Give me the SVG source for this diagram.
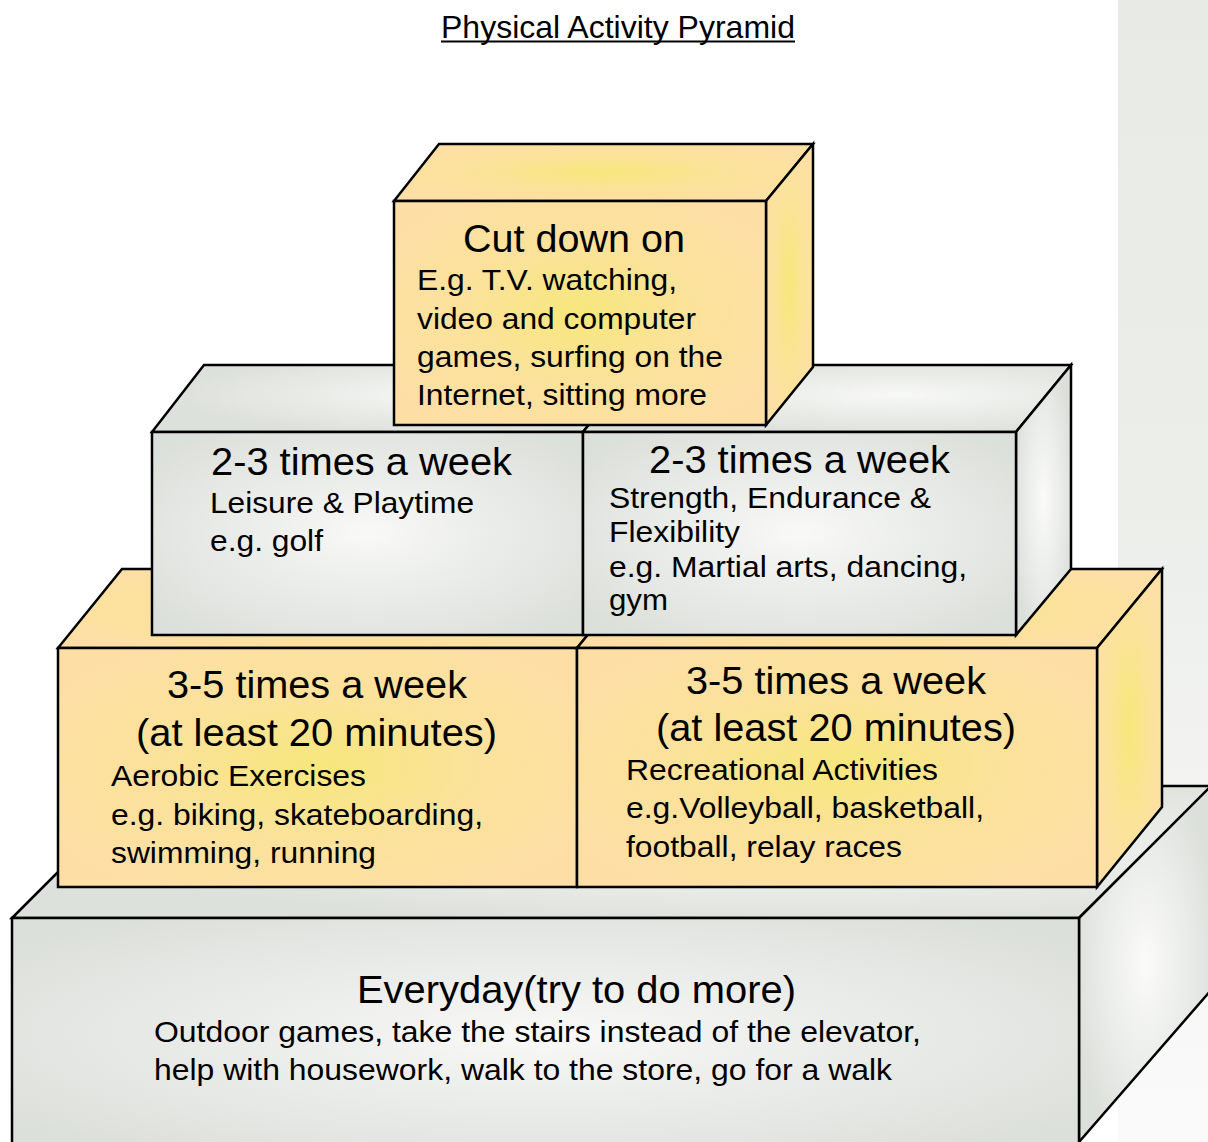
<svg xmlns="http://www.w3.org/2000/svg" width="1208" height="1142" viewBox="0 0 1208 1142">
  <defs>
    <linearGradient id="band" x1="0" y1="0" x2="0" y2="1">
      <stop offset="0" stop-color="#e8eae5"/>
      <stop offset="0.45" stop-color="#eceeea"/>
      <stop offset="0.7" stop-color="#f3f4f2"/>
      <stop offset="1" stop-color="#fafafa"/>
    </linearGradient>
    <radialGradient id="gray" cx="0.5" cy="0.5" r="0.62">
      <stop offset="0" stop-color="#f9f9f8"/>
      <stop offset="0.45" stop-color="#ebedea"/>
      <stop offset="1" stop-color="#dce0da"/>
    </radialGradient>
    <radialGradient id="grayTop" cx="0.65" cy="0.45" r="0.6">
      <stop offset="0" stop-color="#f8f9f7"/>
      <stop offset="0.5" stop-color="#eaece8"/>
      <stop offset="1" stop-color="#dde1db"/>
    </radialGradient>
    <radialGradient id="yellow" cx="0.5" cy="0.5" r="0.6">
      <stop offset="0" stop-color="#f7e77c"/>
      <stop offset="0.5" stop-color="#fbe29a"/>
      <stop offset="1" stop-color="#fddfa6"/>
    </radialGradient>
    <radialGradient id="yellowSide" cx="0.5" cy="0.5" r="0.55">
      <stop offset="0" stop-color="#f7e77a"/>
      <stop offset="0.6" stop-color="#fbe39a"/>
      <stop offset="1" stop-color="#fde0a5"/>
    </radialGradient>
    <radialGradient id="graySide" cx="0.5" cy="0.5" r="0.55">
      <stop offset="0" stop-color="#fbfbfa"/>
      <stop offset="0.5" stop-color="#eceeeb"/>
      <stop offset="1" stop-color="#dce0da"/>
    </radialGradient>
  </defs>
  <style>
    .e { stroke: #000; stroke-width: 2.5; stroke-linejoin: miter; }
    .h { font-family: "Liberation Sans", Arial, sans-serif; font-size: 39px; fill: #000; }
    .b { font-family: "Liberation Sans", Arial, sans-serif; font-size: 30px; fill: #000; }
    .t { font-family: "Liberation Sans", Arial, sans-serif; font-size: 32px; fill: #000; }
  </style>

  <rect x="0" y="0" width="1208" height="1142" fill="#ffffff"/>
  <rect x="1118" y="0" width="90" height="1142" fill="url(#band)"/>

  <g id="title">
    <text class="t" x="441" y="38" textLength="354" lengthAdjust="spacingAndGlyphs">Physical Activity Pyramid</text>
    <line x1="441" y1="41.5" x2="795" y2="41.5" stroke="#000" stroke-width="2"/>
  </g>

  <g id="everyday">
    <polygon class="e" points="12,918 144,786 1212,786 1079,918" fill="url(#grayTop)"/>
    <polygon class="e" points="1079,918 1212,785 1212,989 1079,1142" fill="url(#graySide)"/>
    <polygon class="e" points="12,918 1079,918 1079,1152 12,1152" fill="url(#gray)"/>
    <text class="h" x="357" y="1003" textLength="439" lengthAdjust="spacingAndGlyphs">Everyday(try to do more)</text>
    <text class="b" x="154" y="1042" textLength="767" lengthAdjust="spacingAndGlyphs">Outdoor games, take the stairs instead of the elevator,</text>
    <text class="b" x="154" y="1080" textLength="738" lengthAdjust="spacingAndGlyphs">help with housework, walk to the store, go for a walk</text>
  </g>

  <g id="aerobic">
    <polygon class="e" points="58,648 122,569 641,569 577,648" fill="url(#yellow)"/>
    <polygon class="e" points="58,648 577,648 577,887 58,887" fill="url(#yellow)"/>
    <text class="h" x="167" y="698" textLength="300" lengthAdjust="spacingAndGlyphs">3-5 times a week</text>
    <text class="h" x="136" y="746" textLength="361" lengthAdjust="spacingAndGlyphs">(at least 20 minutes)</text>
    <text class="b" x="111" y="786" textLength="255" lengthAdjust="spacingAndGlyphs">Aerobic Exercises</text>
    <text class="b" x="111" y="825" textLength="372" lengthAdjust="spacingAndGlyphs">e.g. biking, skateboarding,</text>
    <text class="b" x="111" y="863" textLength="265" lengthAdjust="spacingAndGlyphs">swimming, running</text>
  </g>

  <g id="recreational">
    <polygon class="e" points="577,648 642,569 1162,569 1097,648" fill="url(#yellow)"/>
    <polygon class="e" points="1097,648 1162,569 1162,807 1097,887" fill="url(#yellowSide)"/>
    <polygon class="e" points="577,648 1097,648 1097,887 577,887" fill="url(#yellow)"/>
    <text class="h" x="686" y="694" textLength="300" lengthAdjust="spacingAndGlyphs">3-5 times a week</text>
    <text class="h" x="656" y="741" textLength="360" lengthAdjust="spacingAndGlyphs">(at least 20 minutes)</text>
    <text class="b" x="626" y="780" textLength="312" lengthAdjust="spacingAndGlyphs">Recreational Activities</text>
    <text class="b" x="626" y="818" textLength="358" lengthAdjust="spacingAndGlyphs">e.g.Volleyball, basketball,</text>
    <text class="b" x="626" y="857" textLength="276" lengthAdjust="spacingAndGlyphs">football, relay races</text>
  </g>

  <g id="leisure">
    <polygon class="e" points="152,432 204,365 636,365 583,432" fill="url(#grayTop)"/>
    <polygon class="e" points="152,432 583,432 583,635 152,635" fill="url(#gray)"/>
    <text class="h" x="211" y="475" textLength="301" lengthAdjust="spacingAndGlyphs">2-3 times a week</text>
    <text class="b" x="210" y="513" textLength="264" lengthAdjust="spacingAndGlyphs">Leisure &amp; Playtime</text>
    <text class="b" x="210" y="551" textLength="113" lengthAdjust="spacingAndGlyphs">e.g. golf</text>
  </g>

  <g id="strength">
    <polygon class="e" points="583,432 637,365 1071,365 1016,432" fill="url(#grayTop)"/>
    <polygon class="e" points="1016,432 1071,365 1071,569 1016,635" fill="url(#graySide)"/>
    <polygon class="e" points="583,432 1016,432 1016,635 583,635" fill="url(#gray)"/>
    <text class="h" x="649" y="473" textLength="301" lengthAdjust="spacingAndGlyphs">2-3 times a week</text>
    <text class="b" x="609" y="508" textLength="322" lengthAdjust="spacingAndGlyphs">Strength, Endurance &amp;</text>
    <text class="b" x="609" y="542" textLength="131" lengthAdjust="spacingAndGlyphs">Flexibility</text>
    <text class="b" x="609" y="577" textLength="358" lengthAdjust="spacingAndGlyphs">e.g. Martial arts, dancing,</text>
    <text class="b" x="609" y="610" textLength="59" lengthAdjust="spacingAndGlyphs">gym</text>
  </g>

  <g id="cut-down">
    <polygon class="e" points="394,201 439,144 813,144 766,201" fill="url(#yellow)"/>
    <polygon class="e" points="766,201 813,144 813,367 766,425" fill="url(#yellowSide)"/>
    <polygon class="e" points="394,201 766,201 766,425 394,425" fill="url(#yellow)"/>
    <text class="h" x="463" y="252" textLength="222" lengthAdjust="spacingAndGlyphs">Cut down on</text>
    <text class="b" x="417" y="290" textLength="260" lengthAdjust="spacingAndGlyphs">E.g. T.V. watching,</text>
    <text class="b" x="417" y="329" textLength="279" lengthAdjust="spacingAndGlyphs">video and computer</text>
    <text class="b" x="417" y="367" textLength="306" lengthAdjust="spacingAndGlyphs">games, surfing on the</text>
    <text class="b" x="417" y="405" textLength="290" lengthAdjust="spacingAndGlyphs">Internet, sitting more</text>
  </g>
</svg>
